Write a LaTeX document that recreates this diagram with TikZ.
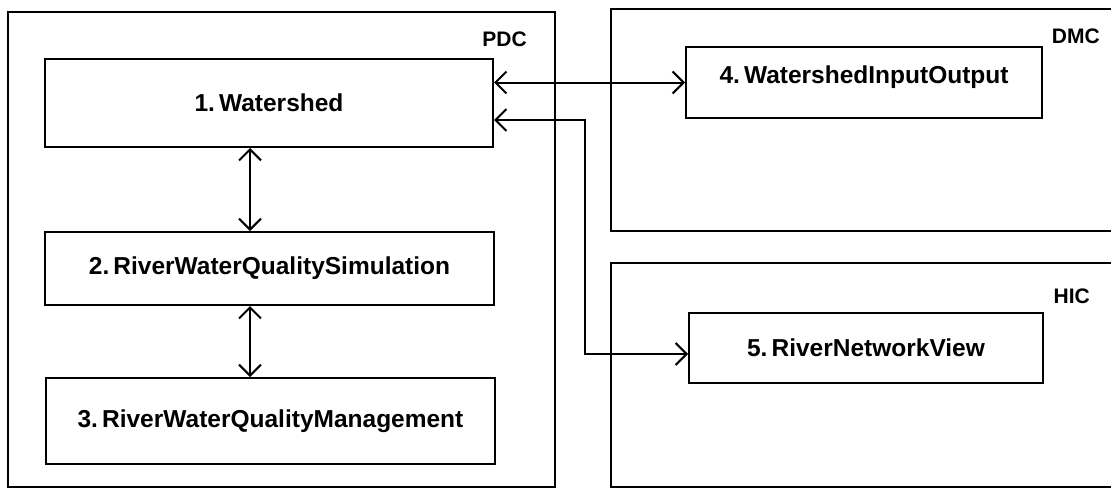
\documentclass[tikz,border=0pt]{standalone}
\usepackage{fontspec}
\setmainfont{Liberation Sans}
\usetikzlibrary{arrows.meta}
\frenchspacing
\tikzset{
  boxnode/.style={draw, line width=2pt, inner sep=0pt, align=center,
    font=\bfseries\fontsize{24.5}{28}\selectfont},
  tagnode/.style={inner sep=0pt, font=\bfseries\fontsize{21}{24}\selectfont},
  frame/.style={line width=2pt},
  biarr/.style={line width=2pt, {Straight Barb[length=11pt,width=22pt]}-{Straight Barb[length=11pt,width=22pt]}}
}
\begin{document}
\begin{tikzpicture}[x=1pt,y=-1pt]
\useasboundingbox (0,0) rectangle (1111,490);
% containers
\draw[frame] (8,12) rectangle (555,487);
\draw[frame] (1111,9) -- (611,9) -- (611,231) -- (1111,231);
\draw[frame] (1111,263) -- (611,263) -- (611,487) -- (1111,487);
% container labels
\node[tagnode, anchor=base east] (pdc) at (527,46) {PDC};
\node[tagnode, anchor=base east] (dmc) at (1100,43) {DMC};
\node[tagnode, anchor=base east] (hic) at (1090,303) {HIC};
% boxes
\node[boxnode, minimum width=448pt, minimum height=88pt] (a1) at (269,103) {1.\,Watershed};
\node[boxnode, minimum width=449pt, minimum height=73pt] (a2) at (269.5,268.5) {2.\,RiverWaterQualitySimulation};
\node[boxnode, minimum width=449pt, minimum height=86pt] (a3) at (270.5,421) {3.\,RiverWaterQualityManagement};
\node[boxnode, minimum width=356pt, minimum height=71pt, text depth=15pt] (a4) at (864,82.5) {4.\,WatershedInputOutput};
\node[boxnode, minimum width=354pt, minimum height=70pt] (a5) at (866,348) {5.\,RiverNetworkView};
% connectors
\draw[biarr] (a4.west -| a1.east) -- (a4.west);
\draw[biarr] ([yshift=-17pt]a1.east) -- ++(91,0) |- ([yshift=-6pt]a5.west);
\draw[biarr] ([xshift=-19pt]a1.south) -- ([xshift=-19pt]a1.south |- a2.north);
\draw[biarr] ([xshift=-19.5pt]a2.south) -- ([xshift=-19.5pt]a2.south |- a3.north);
\end{tikzpicture}
\end{document}
